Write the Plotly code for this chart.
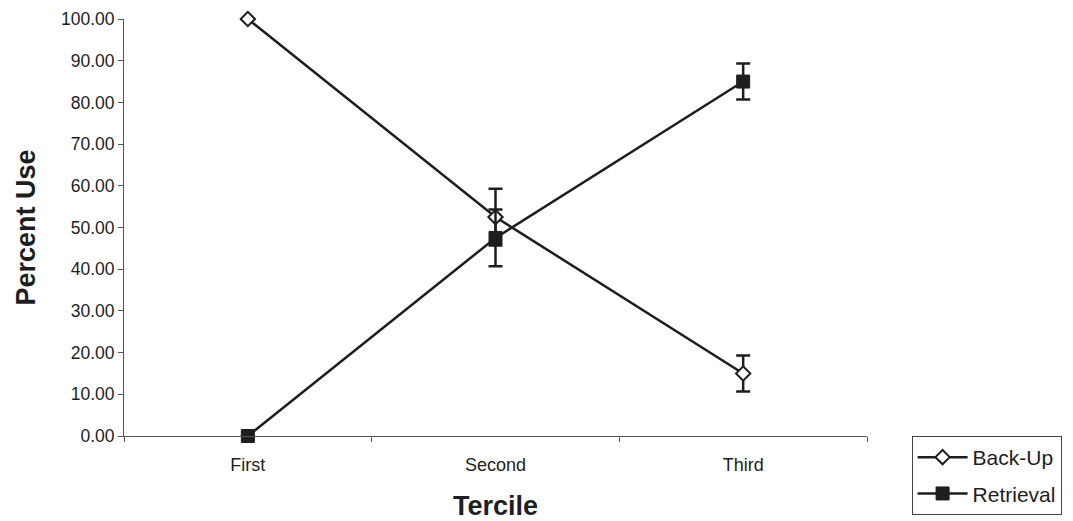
import plotly.graph_objects as go

terciles = ["First", "Second", "Third"]
backup = [100.0, 52.5, 15.0]
backup_err = [None, 6.8, 4.3]
retrieval = [0.0, 47.5, 85.0]
retrieval_err = [None, 6.8, 4.3]
y_ticks = [0, 10, 20, 30, 40, 50, 60, 70, 80, 90, 100]

ink = "#1e1e1e"
axis_grey = "#555"
font = "Liberation Sans, Arial, sans-serif"

fig = go.Figure()
fig.add_trace(go.Scatter(
    x=terciles, y=backup, name="Back-Up", mode="lines+markers",
    legendgroup="a", cliponaxis=False,
    line=dict(color=ink, width=2.5),
    marker=dict(symbol="diamond", size=11, color="white",
                line=dict(color=ink, width=2)),
    error_y=dict(type="data", array=backup_err, color=ink, thickness=2.5, width=7),
))
fig.add_trace(go.Scatter(
    x=terciles, y=retrieval, name="Retrieval", mode="lines+markers",
    legendgroup="b", cliponaxis=False,
    line=dict(color=ink, width=2.5),
    marker=dict(symbol="square", size=13, color=ink,
                line=dict(color=ink, width=1)),
    error_y=dict(type="data", array=retrieval_err, color=ink, thickness=2.5, width=7),
))

fig.update_layout(
    width=1073, height=521,
    margin=dict(l=124, r=206, t=19, b=85, autoexpand=False),
    paper_bgcolor="white", plot_bgcolor="white",
    font=dict(family=font, color=ink),
    showlegend=True,
    legend=dict(
        x=1.06, xanchor="left", y=0.0, yanchor="top",
        bordercolor="#444", borderwidth=1,
        font=dict(size=21, color=ink),
        itemwidth=50, tracegroupgap=6,
    ),
    xaxis=dict(
        type="category", range=[-0.5, 2.5], automargin=False,
        showline=True, linecolor=axis_grey, linewidth=1,
        ticks="outside", tickson="boundaries", ticklen=5, tickcolor=axis_grey,
        showgrid=False, zeroline=False,
        tickfont=dict(size=18, color=ink), ticklabelstandoff=12,
        title=dict(text="<b>Tercile</b>", font=dict(size=27, color=ink), standoff=24),
    ),
    yaxis=dict(
        range=[0, 100], tickvals=y_ticks, tickformat=".2f", automargin=False,
        showline=True, linecolor=axis_grey, linewidth=1,
        ticks="outside", ticklen=5, tickcolor=axis_grey,
        showgrid=False, zeroline=False,
        tickfont=dict(size=17.5, color=ink),
        title=dict(text="<b>Percent Use</b>", font=dict(size=27, color=ink), standoff=17),
    ),
)

fig.write_html("out.html")
